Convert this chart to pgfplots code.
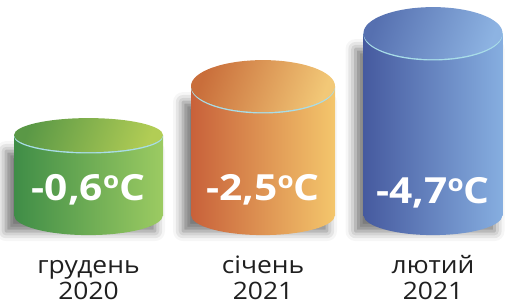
\documentclass[border=0pt]{standalone}
\usepackage{pgfplots}
\pgfplotsset{compat=1.18}
\usepackage{fontspec}
\setmainfont{Open Sans}
\usetikzlibrary{shapes.geometric,shadows.blur}
\definecolor{gL}{HTML}{3F8D47}
\definecolor{gR}{HTML}{9CCB62}
\definecolor{gTL}{HTML}{5A9846}
\definecolor{gTR}{HTML}{B2CD55}
\definecolor{oL}{HTML}{C8613A}
\definecolor{oR}{HTML}{F4C66C}
\definecolor{oTL}{HTML}{C96E3B}
\definecolor{oTR}{HTML}{F2C877}
\definecolor{bL}{HTML}{465A9F}
\definecolor{bR}{HTML}{86AEE0}
\definecolor{bTL}{HTML}{5670B0}
\definecolor{bTR}{HTML}{8DB3E2}
\definecolor{rim}{HTML}{A8DDE8}
\newcommand\degC{\raisebox{12pt}{\fontsize{23}{23}\selectfont o}C}
\pgfplotsset{
  ell/.style n args={3}{draw=none, mark=none, nodes near coords={}, nodes near coords align={center},
     every node near coord/.style={ellipse, inner sep=0pt, minimum width=#1, minimum height=#2, anchor=center, #3}},
  shad/.style={ybar, bar shift=0pt, bar width=#1, draw=none, fill=none,
     blur shadow={shadow xshift=-8pt, shadow yshift=-16pt, shadow blur radius=10pt, shadow opacity=55}},
  body/.style n args={3}{ybar, bar shift=0pt, bar width=#1, draw=none, left color=#2, right color=#3},
  val/.style={draw=none, mark=none, point meta=explicit symbolic, nodes near coords={\scalebox{1.13}[1]{\pgfplotspointmeta\degC}}, nodes near coords align={center},
     every node near coord/.style={anchor=center, text=white, font=\fontsize{36}{36}\selectfont\bfseries}},
}
\begin{document}
\begin{tikzpicture}
\begin{axis}[
  scale only axis, x=1pt, y=1pt,
  xmin=0, xmax=506, ymin=-90, ymax=215,
  clip=false,
  axis line style={draw=none},
  ytick=\empty,
  xtick={88.5,263,433},
  xticklabels={{\scalebox{1.1}[1]{грудень}\\\scalebox{1.1}[1]{2020}},{\scalebox{1.1}[1]{січень}\\\scalebox{1.1}[1]{2021}},{\scalebox{1.1}[1]{лютий}\\\scalebox{1.1}[1]{2021}}},
  major tick length=0pt,
  xticklabel style={align=center, anchor=south, inner sep=0pt, yshift=5pt, font=\fontsize{24}{26}\selectfont, text=black!88},
]
% shadows
\addplot[shad=149pt] coordinates {(88.5,80)};
\addplot[shad=144pt] coordinates {(263,129)};
\addplot[shad=139pt] coordinates {(433,182)};
% green
\addplot[ell={149pt}{40pt}{left color=gL, right color=gR}] coordinates {(88.5,0)};
\addplot[body={149pt}{gL}{gR}] coordinates {(88.5,80)};
\addplot[ell={149pt}{34pt}{fill=rim}] coordinates {(88.5,78.6)};
\addplot[ell={149pt}{34pt}{left color=gTL, right color=gTR, shading angle=70}] coordinates {(88.5,80)};
\addplot[val] coordinates {(88.5,25) [-0,6]};
% orange
\addplot[ell={144pt}{40pt}{left color=oL, right color=oR}] coordinates {(263,0)};
\addplot[body={144pt}{oL}{oR}] coordinates {(263,129)};
\addplot[ell={144pt}{52pt}{fill=rim}] coordinates {(263,127.6)};
\addplot[ell={144pt}{52pt}{left color=oTL, right color=oTR, shading angle=70}] coordinates {(263,129)};
\addplot[val] coordinates {(263,25) [-2,5]};
% blue
\addplot[ell={139pt}{40pt}{left color=bL, right color=bR}] coordinates {(433,0)};
\addplot[body={139pt}{bL}{bR}] coordinates {(433,182)};
\addplot[ell={139pt}{52pt}{fill=rim}] coordinates {(433,180.6)};
\addplot[ell={139pt}{52pt}{left color=bTL, right color=bTR, shading angle=70}] coordinates {(433,182)};
\addplot[val] coordinates {(433,22) [-4,7]};
\end{axis}
\end{tikzpicture}
\end{document}
